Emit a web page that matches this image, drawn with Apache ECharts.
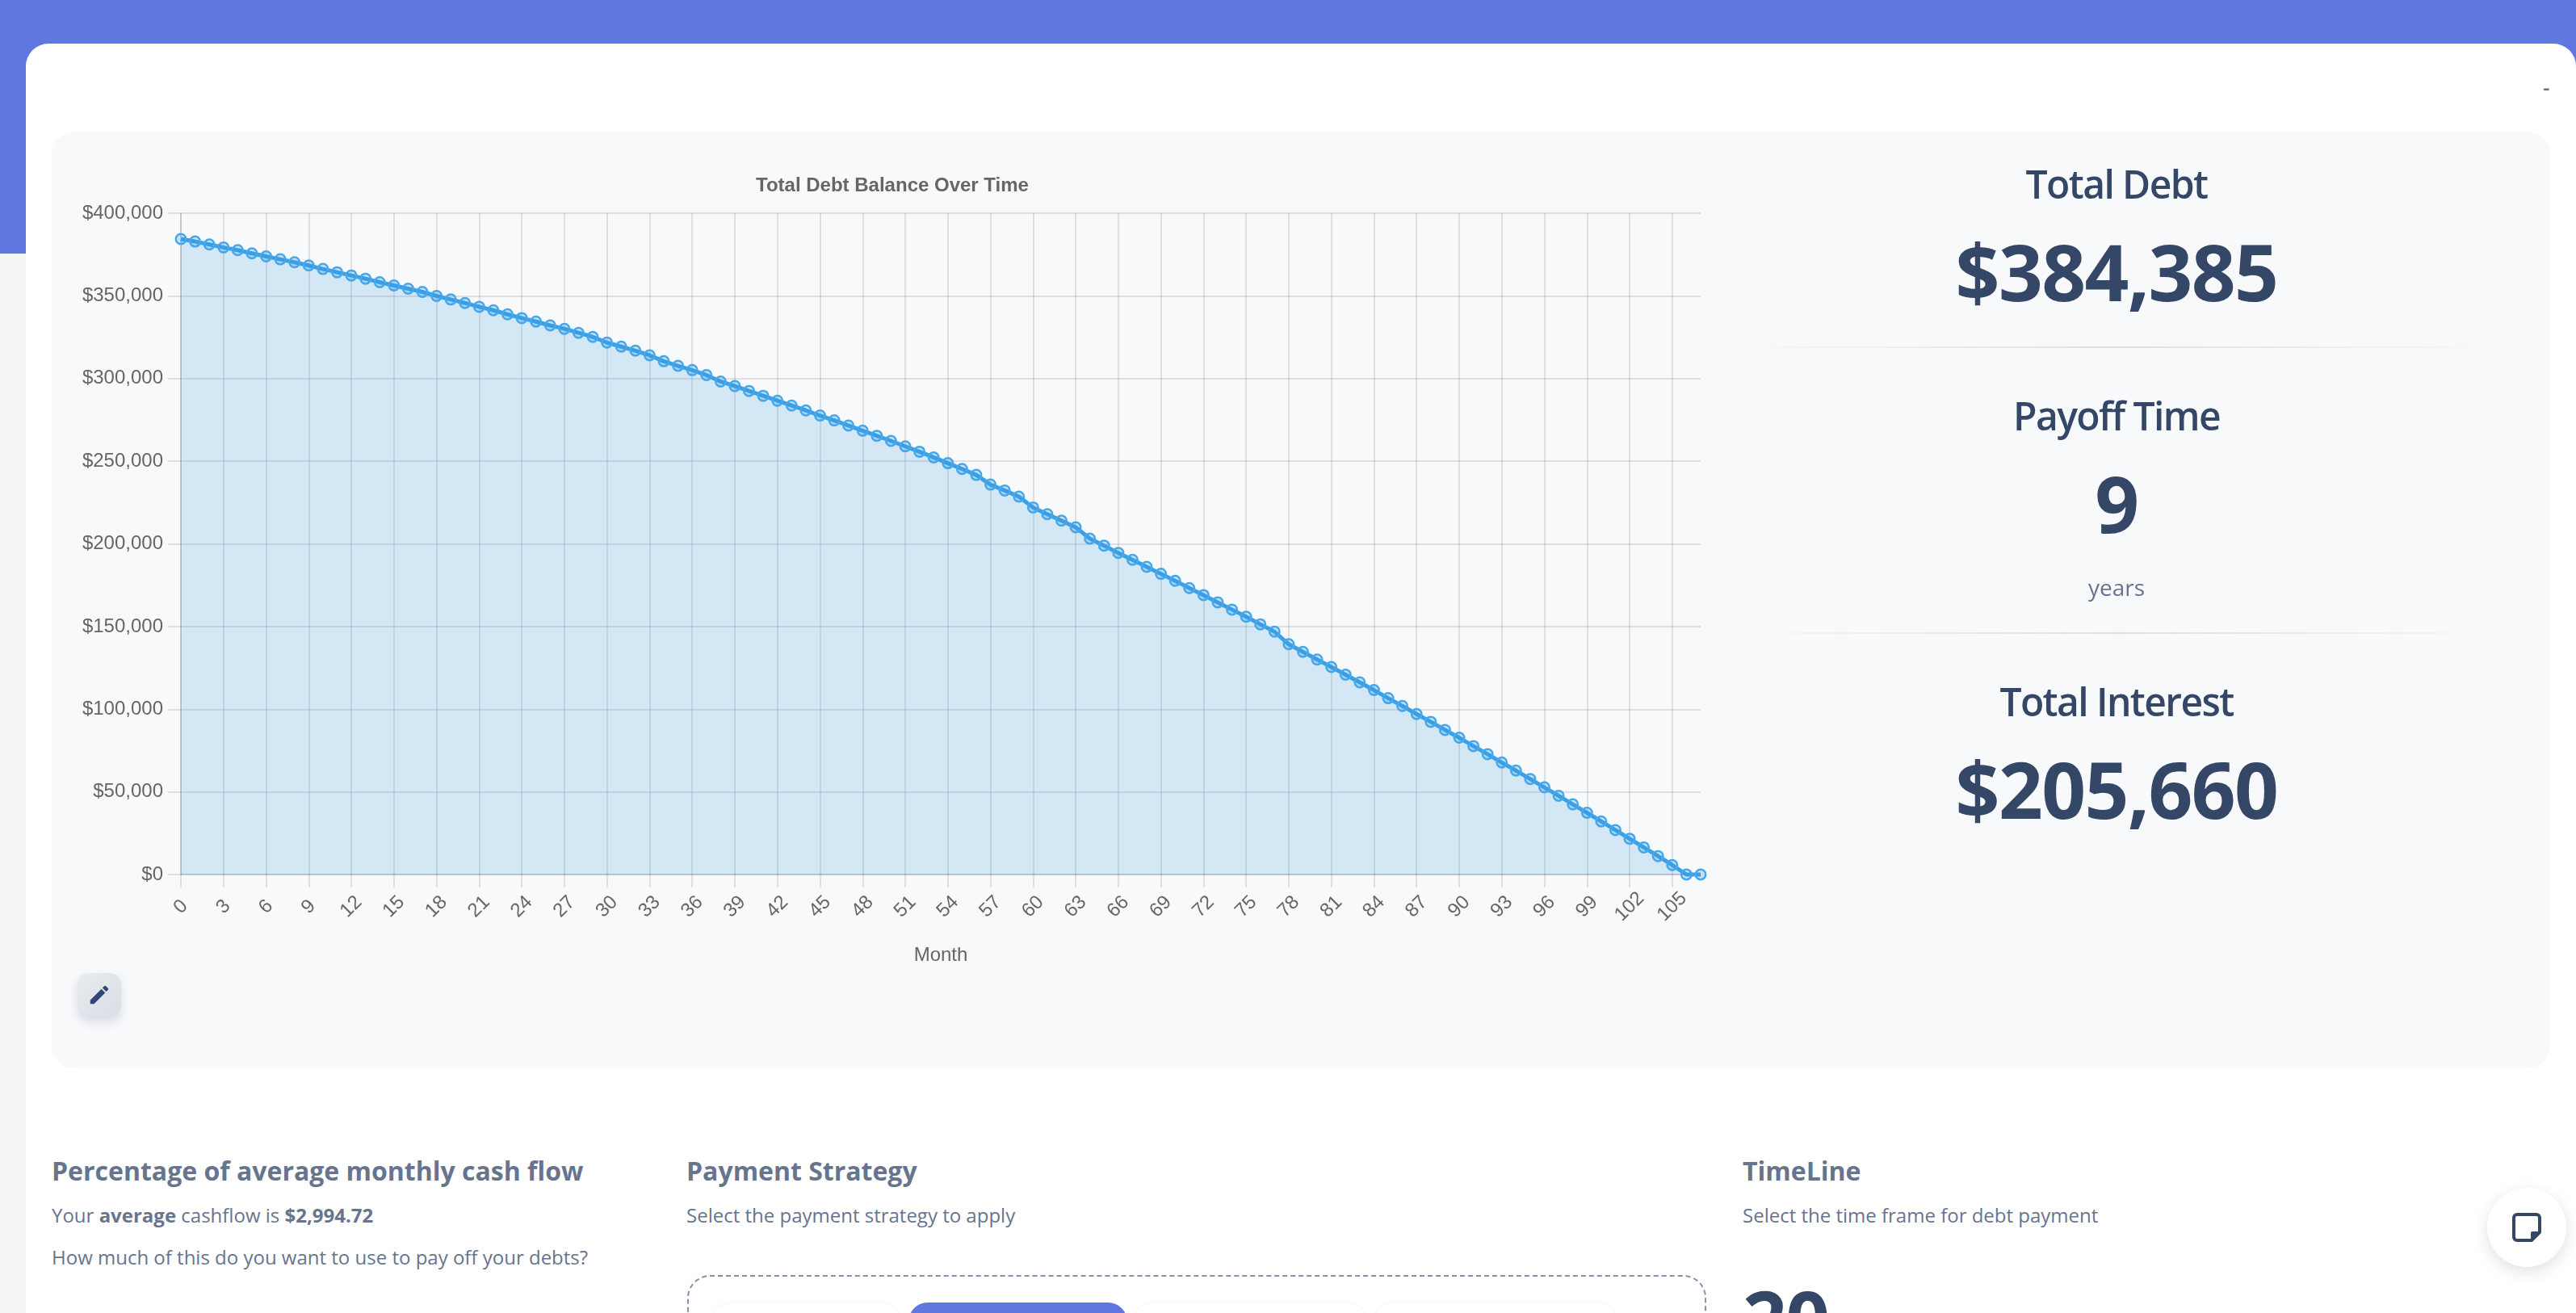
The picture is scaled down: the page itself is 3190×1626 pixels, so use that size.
<!DOCTYPE html>
<html>
<head>
<meta charset="utf-8">
<script src="https://cdn.jsdelivr.net/npm/echarts@6/dist/echarts.min.js"></script>
<style>
html,body{margin:0;padding:0;width:3190px;height:1626px;overflow:hidden;background:#f3f4f6;font-family:"Open Sans",sans-serif;}
.abs{position:absolute;white-space:nowrap;}
#band{position:absolute;left:0;top:0;width:3190px;height:314px;background:#5f77e0;}
#card{position:absolute;left:32px;top:54px;width:3158px;height:1640px;background:#fff;border-radius:28px 28px 0 0;}
#panel{position:absolute;left:64px;top:163px;width:3094px;height:1160px;background:#f8f9fb;border-radius:28px;}
#chart{position:absolute;left:64px;top:163px;width:2100px;height:1160px;}
.stat-title{left:2121px;width:1000px;text-align:center;font-size:48px;font-weight:600;color:#344767;line-height:60px;letter-spacing:-1.6px;}
.stat-value{left:2121px;width:1000px;text-align:center;font-size:96px;font-weight:700;color:#344767;line-height:120px;letter-spacing:-1.6px;}
.divider{height:2px;background:linear-gradient(90deg,rgba(0,0,0,0),rgba(0,0,0,.1),rgba(0,0,0,0));}
.h{font-size:32px;font-weight:700;color:#67748e;line-height:40px;}
.p{font-size:24px;font-weight:400;color:#67748e;line-height:36px;}
.btn{top:1613px;height:80px;border-radius:24px;background:#fff;box-shadow:0 0 4px rgba(0,0,0,.06);}
</style>
</head>
<body>
<div id="band"></div>
<div id="card"></div>
<div id="panel"></div>
<div class="abs" style="left:3149px;top:90px;font-size:26px;line-height:36px;font-weight:600;color:#67748e;">-</div>
<div id="chart"></div>

<div class="abs stat-title" style="top:198px;">Total Debt</div>
<div class="abs stat-value" style="top:276px;">$384,385</div>
<div class="abs divider" style="left:2142px;width:958px;top:429px;"></div>
<div class="abs stat-title" style="top:485px;">Payoff Time</div>
<div class="abs stat-value" style="top:563px;">9</div>
<div class="abs" style="left:2121px;width:1000px;text-align:center;font-size:28px;color:#67748e;line-height:40px;top:707px;">years</div>
<div class="abs divider" style="left:2128px;width:990px;top:783px;"></div>
<div class="abs stat-title" style="top:839px;">Total Interest</div>
<div class="abs stat-value" style="top:917px;">$205,660</div>

<div class="abs" style="left:96px;top:1205px;width:54px;height:55px;border-radius:14px;background:linear-gradient(135deg,#e9ecef,#d8dee6);box-shadow:0 6px 12px rgba(50,50,93,.14);">
<svg width="30" height="30" viewBox="0 0 24 24" style="position:absolute;left:12px;top:12px;"><path fill="#344675" d="M3 17.25V21h3.75L17.81 9.94l-3.75-3.75L3 17.25zM20.71 7.04a1 1 0 0 0 0-1.41l-2.34-2.34a1 1 0 0 0-1.41 0l-1.83 1.83 3.75 3.75 1.83-1.83z"/></svg>
</div>

<div class="abs h" style="left:64px;top:1430px;">Percentage of average monthly cash flow</div>
<div class="abs p" style="left:64px;top:1487px;">Your <b>average</b> cashflow is <b>$2,994.72</b></div>
<div class="abs p" style="left:64px;top:1539px;">How much of this do you want to use to pay off your debts?</div>

<div class="abs h" style="left:850px;top:1430px;">Payment Strategy</div>
<div class="abs p" style="left:850px;top:1487px;">Select the payment strategy to apply</div>
<div class="abs" style="left:851px;top:1579px;width:1258px;height:120px;border:2px dashed #8392ab;border-radius:28px;"></div>
<div class="abs btn" style="left:883px;width:232px;"></div>
<div class="abs btn" style="left:1125px;width:271px;background:#5f77e0;box-shadow:none;"></div>
<div class="abs btn" style="left:1404px;width:288px;"></div>
<div class="abs btn" style="left:1702px;width:299px;"></div>

<div class="abs h" style="left:2158px;top:1430px;">TimeLine</div>
<div class="abs p" style="left:2158px;top:1487px;">Select the time frame for debt payment</div>
<div class="abs" style="left:2158px;top:1572px;font-size:96px;font-weight:700;color:#344767;line-height:120px;letter-spacing:-1.6px;">20</div>

<div class="abs" style="left:3080px;top:1471px;width:98px;height:98px;border-radius:50%;background:#fff;box-shadow:0 6px 20px rgba(0,0,0,.12);">
<svg width="36" height="36" viewBox="0 0 36 36" style="position:absolute;left:31px;top:31px;"><path fill="none" stroke="#344767" stroke-width="4" stroke-linejoin="round" d="M6 2h24a4 4 0 0 1 4 4v18L24 34H6a4 4 0 0 1-4-4V6a4 4 0 0 1 4-4z"/><path fill="#344767" d="M23 34V25a2 2 0 0 1 2-2h9z"/></svg>
</div>

<script>
const chartTitle = "Total Debt Balance Over Time";
const xAxisTitle = "Month";
const months = [];
for (let m = 0; m <= 107; m++) months.push(String(m));
const balance = [
384385,382870,381080,379290,377650,375700,373900,372110,370320,368360,
366240,364280,362320,360370,358250,356290,354330,352380,349930,347810,
345690,343400,341280,338840,336550,334430,332100,330070,327620,325160,
321730,319280,316830,314050,310460,307680,305070,302120,298200,295430,
292480,289540,286600,283660,280720,277610,274670,271570,268460,265360,
262260,258990,255720,252290,248800,245280,241710,235850,232280,228540,
222030,217970,214070,210000,203170,198940,194550,190330,186100,181870,
177640,173250,169030,164640,160250,155950,151340,146880,139300,134670,
130040,125490,120860,116230,111570,106680,101970,97080,92360,87480,
82760,77700,72810,67750,62860,57790,52730,47670,42430,37360,
32130,26890,21650,16410,11170,5760,0,0
];

const chart = echarts.init(document.getElementById('chart'), null, {renderer:'canvas'});
const gridColor = 'rgba(0,0,0,0.1)';
const labelFont = '"Liberation Sans", Arial, sans-serif';
chart.setOption({
  animation:false,
  backgroundColor:'transparent',
  title:{
    text:chartTitle, left:1036, top:50, textAlign:'center',
    textStyle:{fontFamily:labelFont,fontSize:24,fontWeight:'bold',color:'#666'}
  },
  grid:{left:160,top:101,width:1882,height:819,containLabel:false},
  xAxis:{
    type:'category', data:months, boundaryGap:false,
    name:xAxisTitle, nameLocation:'middle', nameGap:88,
    nameTextStyle:{fontFamily:labelFont,fontSize:24,color:'#666'},
    axisLine:{show:true,onZero:false,lineStyle:{color:gridColor,width:2}},
    axisTick:{show:true,interval:2,length:16,lineStyle:{color:gridColor,width:2}},
    splitLine:{show:true,interval:2,lineStyle:{color:gridColor,width:2}},
    axisLabel:{interval:2,rotate:45,align:'center',verticalAlign:'middle',margin:40,
      fontFamily:labelFont,fontSize:24,color:'#666',hideOverlap:false}
  },
  yAxis:{
    type:'value', min:0, max:400000, interval:50000,
    axisLine:{show:true,lineStyle:{color:gridColor,width:2}},
    axisTick:{show:true,length:16,lineStyle:{color:gridColor,width:2}},
    splitLine:{show:true,lineStyle:{color:gridColor,width:2}},
    axisLabel:{margin:22,fontFamily:labelFont,fontSize:24,color:'#666',
      formatter:v=>'$'+v.toLocaleString('en-US')}
  },
  series:[{
    type:'line', data:balance, smooth:false, clip:false,
    showAllSymbol:true, symbol:'circle', symbolSize:12.5,
    lineStyle:{color:'#3ba0e8',width:5},
    itemStyle:{color:'rgba(52,152,219,0.25)',borderColor:'#45a8ea',borderWidth:2.5},
    areaStyle:{color:'rgba(52,152,219,0.18)',opacity:1},
    emphasis:{disabled:true}
  }]
});
</script>
</body>
</html>
